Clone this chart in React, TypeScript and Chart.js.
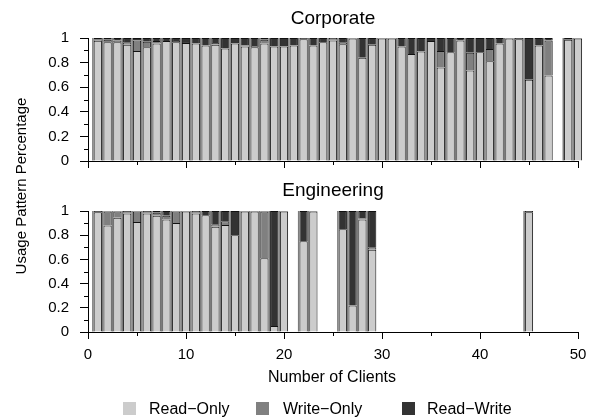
import React, { useEffect, useRef } from "react";
import { Chart, registerables } from "chart.js";

Chart.register(...registerables);

const FONT = "'Liberation Sans', Arial, Helvetica, sans-serif";

// Clients (x positions)
const CLIENTS = [
  1, 2, 3, 4, 5, 6, 7, 8, 9, 10, 11, 12, 13, 14, 15, 16, 17, 18, 19, 20, 21, 22, 23, 24, 25,
  26, 27, 28, 29, 30, 31, 32, 33, 34, 35, 36, 37, 38, 39, 40, 41, 42, 43, 44, 45, 46, 47, 48, 49, 50,
];

const SERIES_NAMES = ["Read\u2212Only", "Write\u2212Only", "Read\u2212Write"];
const SERIES_COLORS = ["#cccccc", "#808080", "#333333"];

// Corporate
const CORP_RO = [
  0.978, 0.965, 0.965, 0.945, 0.895, 0.925, 0.955, 0.975, 0.965, 0.96,
  0.955, 0.94, 0.945, 0.915, 0.955, 0.93, 0.925, 0.955, 0.93, 0.93,
  0.94, 0.99, 0.94, 0.965, 0.98, 0.95, 0.995, 0.84, 0.945, 0.995,
  0.995, 0.93, 0.87, 0.89, 0.975, 0.76, 0.885, 0.98, 0.735, 0.885,
  0.81, 0.955, 0.995, 0.99, 0.66, 0.94, 0.695, null, 0.985, 0.995,
];
const CORP_WO = [
  0.007, 0.02, 0.015, 0.02, 0.085, 0.045, 0.02, 0, 0.01, 0,
  0, 0, 0.015, 0, 0, 0.01, 0.01, 0.03, 0, 0,
  0, 0, 0, 0, 0.01, 0.015, 0, 0, 0, 0,
  0, 0, 0, 0, 0, 0.135, 0, 0, 0.145, 0,
  0.1, 0, 0, 0, 0, 0, 0.285, null, 0, 0,
];
const CORP_RW = [
  0.015, 0.015, 0.02, 0.035, 0.02, 0.03, 0.025, 0.025, 0.025, 0.04,
  0.045, 0.06, 0.04, 0.085, 0.045, 0.06, 0.065, 0.015, 0.07, 0.07,
  0.06, 0.01, 0.06, 0.035, 0.01, 0.035, 0.005, 0.16, 0.055, 0.005,
  0.005, 0.07, 0.13, 0.11, 0.025, 0.105, 0.115, 0.02, 0.12, 0.115,
  0.09, 0.045, 0.005, 0.01, 0.34, 0.06, 0.02, null, 0.015, 0.005,
];

// Engineering
const ENG_RO = [
  0.99, 0.88, 0.945, 0.98, 0.91, 0.98, 0.96, 0.93, 0.9, 0.995,
  0.98, 0.965, 0.87, 0.885, 0.8, 0.995, 0.995, 0.61, 0.05, 0.995,
  null, 0.75, 0.995, null, null, 0.85, 0.22, 0.93, 0.68, null,
  null, null, null, null, null, null, null, null, null, null,
  null, null, null, null, 0.99, null, null, null, null, null,
];
const ENG_WO = [
  0, 0.115, 0.05, 0.01, 0.085, 0.01, 0.025, 0.03, 0.095, 0,
  0.01, 0, 0.02, 0.03, 0, 0, 0, 0.385, 0, 0,
  null, 0, 0, null, null, 0, 0, 0.01, 0.02, null,
  null, null, null, null, null, null, null, null, null, null,
  null, null, null, null, 0, null, null, null, null, null,
];
const ENG_RW = [
  0.01, 0.005, 0.005, 0.01, 0.005, 0.01, 0.015, 0.04, 0.005, 0.005,
  0.01, 0.035, 0.11, 0.085, 0.2, 0.005, 0.005, 0.005, 0.95, 0.005,
  null, 0.25, 0.005, null, null, 0.15, 0.78, 0.06, 0.3, null,
  null, null, null, null, null, null, null, null, null, null,
  null, null, null, null, 0.01, null, null, null, null, null,
];

const X_MINOR = [5, 15, 25, 35, 45];
const Y_MINOR = [0.1, 0.3, 0.5, 0.7, 0.9];

const stripPlugin = {
  id: "barStrips",
  beforeDatasetsDraw(chart: any) {
    const ctx = chart.ctx;
    const n = chart.data.datasets.length;
    const metas = [];
    for (let d = 0; d < n; d++) metas.push(chart.getDatasetMeta(d));
    const xs = chart.scales.x;
    const unit = xs.getPixelForValue(1) - xs.getPixelForValue(0);
    ctx.save();
    ctx.fillStyle = "#7c7c7c";
    const count = metas[0].data.length;
    for (let i = 0; i < count; i++) {
      const raw = chart.data.datasets[0].data[i];
      if (!raw || raw.y == null) continue;
      const el = metas[0].data[i];
      const p = el.getProps(["x", "width", "base", "y"], true);
      let top = p.y;
      for (const m of metas) {
        const e = m.data[i];
        if (!e) continue;
        const ey = e.getProps(["y"], true).y;
        if (ey != null && !isNaN(ey)) top = Math.min(top, ey);
      }
      const gap = unit - p.width;
      const left = p.x - p.width / 2;
      ctx.fillRect(left - gap, top, gap, p.base - top);
    }
    ctx.restore();
  },
};

const minorTickPlugin = {
  id: "minorTicks",
  afterDraw(chart: any) {
    const { ctx, chartArea } = chart;
    const xs = chart.scales.x;
    const ys = chart.scales.y;
    ctx.save();
    ctx.strokeStyle = "#000";
    ctx.lineWidth = 1;
    ctx.beginPath();
    for (const v of X_MINOR) {
      const px = Math.round(xs.getPixelForValue(v)) + 0.5;
      ctx.moveTo(px, chartArea.bottom);
      ctx.lineTo(px, chartArea.bottom + 4);
    }
    for (const v of Y_MINOR) {
      const py = Math.round(ys.getPixelForValue(v)) + 0.5;
      ctx.moveTo(chartArea.left - 4, py);
      ctx.lineTo(chartArea.left, py);
    }
    ctx.stroke();
    ctx.restore();
  },
};

function makeConfig(
  ro: (number | null)[],
  wo: (number | null)[],
  rw: (number | null)[],
  showLabels: boolean,
  xAxisHeight: number,
  padTop: number
): any {
  const toPts = (arr: (number | null)[]) => CLIENTS.map((c, i) => ({ x: c, y: arr[i] }));
  const series = [ro, wo, rw];
  const tickFont = { family: FONT, size: 15 };
  return {
    type: "bar",
    data: {
      datasets: series.map((arr, k) => ({
        label: SERIES_NAMES[k],
        data: toPts(arr),
        backgroundColor: SERIES_COLORS[k],
        borderColor: "#111111",
        borderWidth: 1,
        barPercentage: 0.84,
        categoryPercentage: 1,
        clip: false,
      })),
    },
    options: {
      animation: false,
      responsive: false,
      maintainAspectRatio: false,
      devicePixelRatio: 1,
      layout: { padding: { top: padTop, right: 17, left: 0, bottom: 0 } },
      plugins: {
        legend: { display: false },
        tooltip: { enabled: false },
        title: { display: false },
      },
      scales: {
        x: {
          type: "linear",
          min: 0,
          max: 50,
          stacked: true,
          offset: false,
          afterFit: (s: any) => {
            s.height = xAxisHeight;
            s.paddingLeft = 0;
            s.paddingRight = 0;
            s.paddingTop = 0;
            s.paddingBottom = 0;
          },
          ticks: {
            stepSize: 10,
            font: tickFont,
            color: "#000",
            padding: 7,
            maxRotation: 0,
            autoSkip: false,
            callback: (v: any) => (showLabels ? String(v) : ""),
          },
          grid: {
            drawOnChartArea: false,
            tickLength: 7,
            tickColor: "#000",
            offset: false,
          },
          border: { color: "#000", width: 1 },
        },
        y: {
          min: 0,
          max: 1,
          stacked: true,
          afterFit: (s: any) => {
            s.width = 88;
            s.paddingTop = 0;
            s.paddingBottom = 0;
            s.paddingLeft = 0;
            s.paddingRight = 0;
          },
          ticks: {
            stepSize: 0.2,
            font: tickFont,
            color: "#000",
            padding: 11,
            callback: (v: any) => {
              const r = Math.round(Number(v) * 10) / 10;
              if (r === 0) return "0";
              if (r === 1) return "1";
              return r.toFixed(1);
            },
          },
          grid: {
            drawOnChartArea: false,
            tickLength: 8,
            tickColor: "#000",
          },
          border: { color: "#000", width: 1 },
        },
      },
    },
    plugins: [stripPlugin, minorTickPlugin],
  };
}

const textBase: React.CSSProperties = {
  position: "absolute",
  whiteSpace: "nowrap",
  lineHeight: 1,
  color: "#000",
  fontFamily: FONT,
};

export default function App() {
  const topRef = useRef<HTMLCanvasElement>(null);
  const botRef = useRef<HTMLCanvasElement>(null);

  useEffect(() => {
    const c1 = new Chart(topRef.current as HTMLCanvasElement, makeConfig(CORP_RO, CORP_WO, CORP_RW, false, 14, 38));
    const c2 = new Chart(botRef.current as HTMLCanvasElement, makeConfig(ENG_RO, ENG_WO, ENG_RW, true, 86, 36));
    return () => {
      c1.destroy();
      c2.destroy();
    };
  }, []);

  const legendSquares = [123, 256, 402];
  const legendTexts = [149, 283, 427];

  return (
    <div
      style={{
        position: "fixed",
        left: 0,
        top: 0,
        width: 595,
        height: 418,
        background: "#fff",
        overflow: "hidden",
      }}
    >
      <canvas ref={topRef} width={595} height={175} style={{ position: "absolute", left: 0, top: 0 }} />
      <canvas ref={botRef} width={595} height={243} style={{ position: "absolute", left: 0, top: 175 }} />
      <div style={{ ...textBase, left: 333, top: 17, fontSize: 19, transform: "translate(-50%, -50%)" }}>Corporate</div>
      <div style={{ ...textBase, left: 333, top: 189, fontSize: 19, transform: "translate(-50%, -50%)" }}>Engineering</div>
      <div
        style={{
          position: "absolute",
          left: 11,
          top: 96,
          width: 18,
          height: 180,
        }}
      >
        <div
          style={{
            ...textBase,
            left: 9,
            top: 90,
            fontSize: 15,
            transform: "translate(-50%, -50%) rotate(-90deg)",
          }}
        >
          Usage Pattern Percentage
        </div>
      </div>
      <div style={{ ...textBase, left: 332, top: 377, fontSize: 16, transform: "translate(-50%, -50%)" }}>
        Number of Clients
      </div>
      {SERIES_NAMES.map((name, k) => (
        <React.Fragment key={name}>
          <div
            style={{
              position: "absolute",
              left: legendSquares[k],
              top: 402,
              width: 13,
              height: 13,
              background: SERIES_COLORS[k],
            }}
          />
          <div style={{ ...textBase, left: legendTexts[k], top: 409, fontSize: 16, transform: "translateY(-50%)" }}>
            {name}
          </div>
        </React.Fragment>
      ))}
    </div>
  );
}
